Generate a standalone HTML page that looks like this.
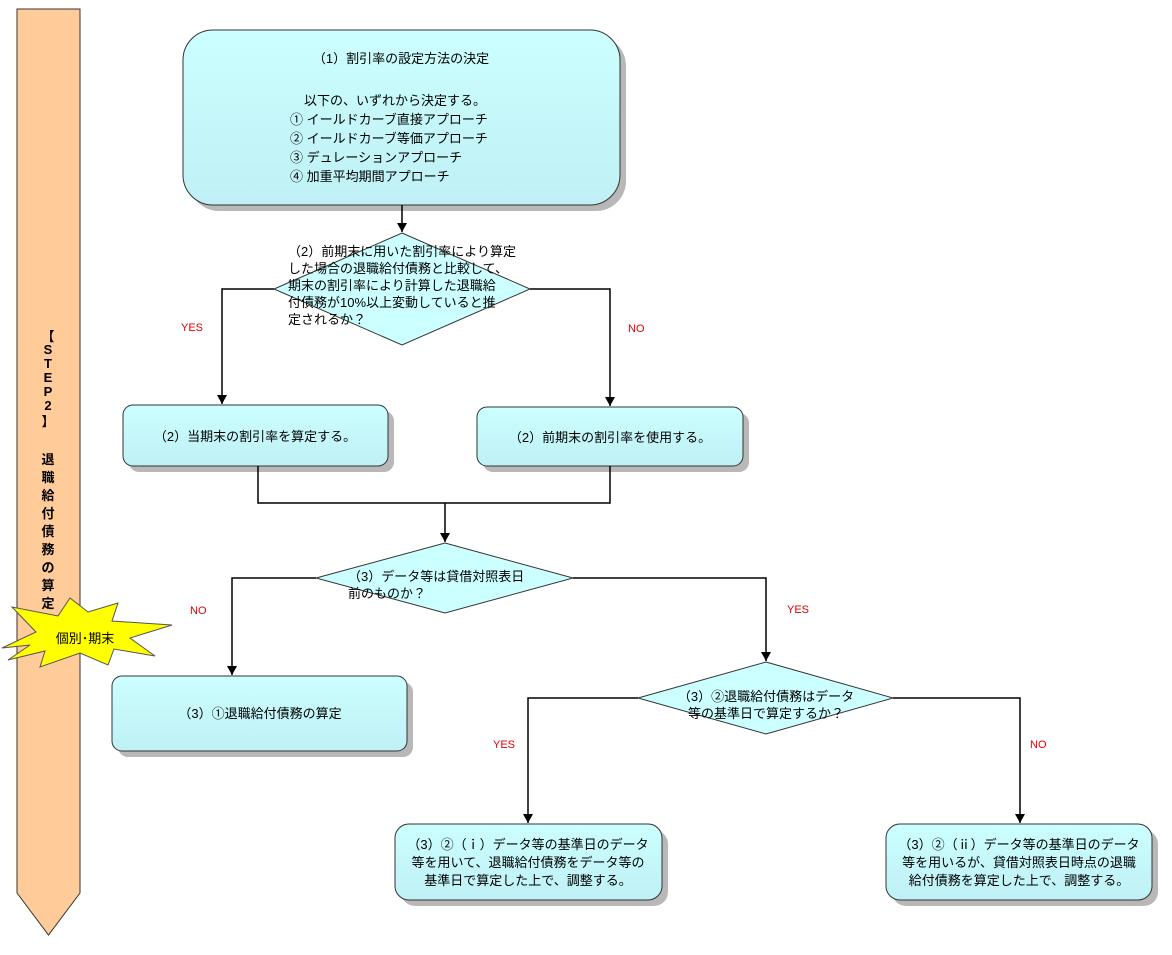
<!DOCTYPE html>
<html><head><meta charset="utf-8"><style>
html,body{margin:0;padding:0;background:#fff;}
svg{display:block;font-family:"Liberation Sans","Noto Sans CJK JP",sans-serif;}
.t{font-size:13px;fill:#000;}
.r{font-size:11px;fill:#e00000;}
</style></head><body>
<svg width="1172" height="955" viewBox="0 0 1172 955" xmlns="http://www.w3.org/2000/svg">
<defs>
<linearGradient id="g" x1="0" y1="0" x2="0" y2="1"><stop offset="0" stop-color="#ccffff"/><stop offset="1" stop-color="#bff0f5"/></linearGradient>
<marker id="a" markerWidth="10" markerHeight="10" refX="9" refY="5" orient="auto" markerUnits="userSpaceOnUse"><path d="M0,0 L9,5 L0,10 Z" fill="#000"/></marker>
</defs>
<path d="M17,9 H80 V893 L48.5,935 L17,893 Z" fill="#ffcc99" stroke="#333" stroke-width="1"/>
<g class="t" font-weight="bold" text-anchor="middle" font-size="12">
<text x="48" y="341">【</text><text x="48" y="354">S</text><text x="48" y="368">T</text><text x="48" y="382">E</text><text x="48" y="396">P</text><text x="48" y="410">2</text><text x="48" y="426">】</text>
<text x="48" y="464">退</text><text x="48" y="482">職</text><text x="48" y="500">給</text><text x="48" y="518">付</text><text x="48" y="536">債</text><text x="48" y="554">務</text><text x="48" y="572">の</text><text x="48" y="590">算</text><text x="48" y="608">定</text>
</g>
<polygon points="2,648 36,632 12,607 58,616 70,598 88,612 118,603 112,621 172,625 130,638 155,656 114,649 108,665 80,653 40,667 45,651 8,660 30,645" fill="#ffff00" stroke="#555" stroke-width="1"/>
<text x="85" y="643" class="t" text-anchor="middle" font-size="13">個別･期末</text>

<g fill="#b8b8b8">
<rect x="189" y="36" width="437" height="175" rx="30"/>
<rect x="129" y="411" width="265" height="61" rx="10"/>
<rect x="483" y="413" width="266" height="59" rx="10"/>
<rect x="118" y="682" width="295" height="75" rx="10"/>
<rect x="401" y="830" width="267" height="76" rx="14"/>
<rect x="892" y="830" width="266" height="76" rx="14"/>
</g>
<g fill="url(#g)" stroke="#333" stroke-width="1">
<rect x="183" y="30" width="437" height="175" rx="30"/>
<rect x="123" y="405" width="265" height="61" rx="10"/>
<rect x="477" y="407" width="266" height="59" rx="10"/>
<rect x="112" y="676" width="295" height="75" rx="10"/>
<rect x="395" y="824" width="267" height="76" rx="14"/>
<rect x="886" y="824" width="266" height="76" rx="14"/>
<polygon points="402,233 530,289 402,345 274,289" fill="#ccffff"/>
<polygon points="445,543 573,578 445,613 316,578" fill="#ccffff"/>
<polygon points="766,662 893,698 766,734 638,698" fill="#ccffff"/>
</g>

<g stroke="#000" stroke-width="1.5" fill="none">
<line x1="402" y1="205" x2="402" y2="232" marker-end="url(#a)"/>
<polyline points="274,289 222,289 222,404" marker-end="url(#a)"/>
<polyline points="530,289 610,289 610,406" marker-end="url(#a)"/>
<polyline points="258,466 258,503 610,503 610,466"/>
<line x1="445" y1="503" x2="445" y2="542" marker-end="url(#a)"/>
<polyline points="316,578 232,578 232,675" marker-end="url(#a)"/>
<polyline points="573,578 766,578 766,661" marker-end="url(#a)"/>
<polyline points="638,698 528,698 528,823" marker-end="url(#a)"/>
<polyline points="893,698 1020,698 1020,823" marker-end="url(#a)"/>
</g>

<g class="r"><text x="181" y="331">YES</text><text x="628" y="332">NO</text><text x="190" y="614">NO</text><text x="787" y="613">YES</text><text x="493" y="748">YES</text><text x="1030" y="748">NO</text></g>

<g class="t">
<text x="401" y="63" text-anchor="middle">（1）割引率の設定方法の決定</text>
<text x="304" y="105">以下の、いずれから決定する。</text>
<text x="290" y="124">① イールドカーブ直接アプローチ</text>
<text x="290" y="143">② イールドカーブ等価アプローチ</text>
<text x="290" y="162">③ デュレーションアプローチ</text>
<text x="290" y="181">④ 加重平均期間アプローチ</text>

<text x="288" y="256">（2）前期末に用いた割引率により算定</text>
<text x="288" y="273">した場合の退職給付債務と比較して、</text>
<text x="288" y="290">期末の割引率により計算した退職給</text>
<text x="288" y="307">付債務が10%以上変動していると推</text>
<text x="288" y="324">定されるか？</text>

<text x="255" y="441" text-anchor="middle">（2）当期末の割引率を算定する。</text>
<text x="610" y="442" text-anchor="middle">（2）前期末の割引率を使用する。</text>

<text x="348" y="581">（3）データ等は貸借対照表日</text>
<text x="348" y="598">前のものか？</text>

<text x="260" y="718" text-anchor="middle">（3）①退職給付債務の算定</text>

<text x="766" y="701" text-anchor="middle">（3）②退職給付債務はデータ</text>
<text x="766" y="718" text-anchor="middle">等の基準日で算定するか？</text>

<text x="528" y="849" text-anchor="middle">（3）②（ｉ）データ等の基準日のデータ</text>
<text x="528" y="867" text-anchor="middle">等を用いて、退職給付債務をデータ等の</text>
<text x="528" y="885" text-anchor="middle">基準日で算定した上で、調整する。</text>

<text x="1019" y="849" text-anchor="middle">（3）②（ⅱ）データ等の基準日のデータ</text>
<text x="1019" y="867" text-anchor="middle">等を用いるが、貸借対照表日時点の退職</text>
<text x="1019" y="885" text-anchor="middle">給付債務を算定した上で、調整する。</text>
</g>
</svg>
</body></html>
